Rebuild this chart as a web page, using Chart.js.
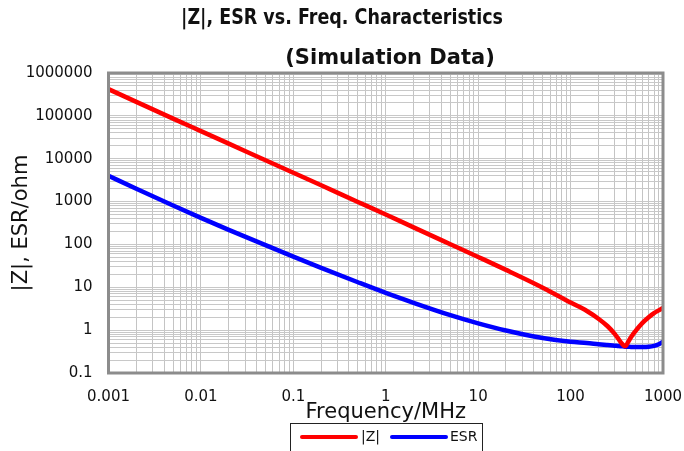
<!DOCTYPE html>
<html>
<head>
<meta charset="utf-8">
<script src="https://cdn.jsdelivr.net/npm/chart.js@4.4.0/dist/chart.umd.min.js"></script>
<style>
  html, body { margin: 0; padding: 0; background: #fff; }
  #wrap { width: 684px; height: 451px; }
</style>
</head>
<body>
<div id="wrap"><canvas id="chart" width="684" height="451"></canvas></div>
<script>
(() => {
  const titleLines = ["|Z|, ESR vs. Freq. Characteristics", "(Simulation Data)"];
  const xTitle = "Frequency/MHz";
  const yTitle = "|Z|, ESR/ohm";
  const seriesNames = ["|Z|", "ESR"];
  const seriesColors = ["#ff0000", "#0000ff"];

  const xTickLabels = ["0.001", "0.01", "0.1", "1", "10", "100", "1000"];
  const yTickLabels = ["0.1", "1", "10", "100", "1000", "10000", "100000", "1000000"];

  // frequency in MHz
  const freqMHz = [0.001, 0.002, 0.005, 0.01, 0.02, 0.05, 0.1, 0.2, 0.5, 1, 2, 5, 10, 20, 50,
    100, 150, 200, 250, 300, 330, 360, 380, 390, 400, 420, 450, 500, 550, 600, 700, 800, 900, 1000];
  const zOhm = [420000, 212000, 86000, 44000, 22500, 9200, 4700, 2400, 980, 500, 250, 101, 51, 25.5, 9.8,
    4.4, 2.8, 1.85, 1.25, 0.82, 0.62, 0.48, 0.43, 0.42, 0.44, 0.53, 0.68, 0.93, 1.2, 1.48, 2.0, 2.5, 2.9, 3.3];
  const esrOhm = [3990, 1990, 811, 417, 219, 96, 52, 28.5, 13.1, 7.4, 4.35, 2.24, 1.44, 0.98, 0.656,
    0.533, 0.5, 0.47, 0.45, 0.435, 0.425, 0.42, 0.415, 0.41, 0.41, 0.41, 0.405, 0.405, 0.405, 0.405, 0.41, 0.43, 0.47, 0.54];

  const font = "'DejaVu Sans', Verdana, sans-serif";
  const textColor = "#111";

  function logTicks(labels) {
    const ticks = [];
    const decades = labels.map(Number);
    decades.forEach((d, i) => {
      if (i === decades.length - 1) {
        ticks.push({ value: d });
        return;
      }
      for (let k = 1; k < 10; k++) ticks.push({ value: d * k });
    });
    return ticks;
  }

  function labelFor(labels) {
    return (value) => {
      const hit = labels.find((l) => Math.abs(Number(l) / value - 1) < 1e-6);
      return hit || "";
    };
  }

  const frame = {
    id: "frame",
    afterDatasetsDraw(chart) {
      const { ctx, chartArea: a } = chart;
      ctx.save();
      ctx.strokeStyle = "#8c8c8c";
      ctx.lineWidth = 3;
      ctx.strokeRect(a.left, a.top, a.right - a.left, a.bottom - a.top);
      ctx.restore();
    },
  };

  const headings = {
    id: "headings",
    afterDraw(chart) {
      const ctx = chart.ctx;
      ctx.save();
      ctx.fillStyle = textColor;
      ctx.font = "bold 21px " + font;
      ctx.textAlign = "center";
      ctx.textBaseline = "middle";
      ctx.fillText(titleLines[0], 342, 19, 322);
      ctx.fillText(titleLines[1], 390, 59);
      ctx.restore();
    },
  };

  const legendBox = {
    id: "legendBox",
    afterDraw(chart) {
      const ctx = chart.ctx;
      ctx.save();
      ctx.fillStyle = "#fff";
      ctx.fillRect(290.5, 423.5, 192, 40);
      ctx.strokeStyle = "#222";
      ctx.lineWidth = 1;
      ctx.strokeRect(290.5, 423.5, 192, 40);
      const items = [{ x0: 302, x1: 356, tx: 361 }, { x0: 392, x1: 446, tx: 450 }];
      chart.data.datasets.forEach((ds, i) => {
        const it = items[i];
        ctx.strokeStyle = ds.borderColor;
        ctx.lineWidth = 4;
        ctx.lineCap = "round";
        ctx.beginPath();
        ctx.moveTo(it.x0, 437);
        ctx.lineTo(it.x1, 437);
        ctx.stroke();
        ctx.fillStyle = textColor;
        ctx.font = "14px " + font;
        ctx.textAlign = "left";
        ctx.textBaseline = "middle";
        ctx.fillText(ds.label, it.tx, 437);
      });
      ctx.restore();
    },
  };

  const series = [zOhm, esrOhm].map((vals, i) => ({
    label: seriesNames[i],
    data: freqMHz.map((f, j) => ({ x: f, y: vals[j] })),
    borderColor: seriesColors[i],
    backgroundColor: seriesColors[i],
    borderWidth: 4.5,
    pointRadius: 0,
    cubicInterpolationMode: "monotone",
    fill: false,
  }));

  new Chart(document.getElementById("chart"), {
    type: "line",
    data: { datasets: series },
    plugins: [frame, headings, legendBox],
    options: {
      responsive: false,
      animation: false,
      devicePixelRatio: 1,
      layout: { padding: { top: 73, right: 21, bottom: 0, left: 0 } },
      plugins: { legend: { display: false }, title: { display: false }, tooltip: { enabled: false } },
      scales: {
        x: {
          type: "logarithmic",
          min: 0.001,
          max: 1000,
          afterBuildTicks: (s) => { s.ticks = logTicks(xTickLabels); },
          afterFit: (s) => { s.height = 78; s.paddingLeft = 0; s.paddingRight = 0; },
          grid: { color: "#c4c4c4", lineWidth: 1, drawTicks: false },
          border: { display: false },
          ticks: {
            autoSkip: false, maxRotation: 0, padding: 15, color: textColor,
            font: { family: font, size: 15 }, callback: labelFor(xTickLabels),
          },
          title: {
            display: true, text: xTitle, color: textColor,
            font: { family: font, size: 21 }, padding: { top: 0, bottom: 26 },
          },
        },
        y: {
          type: "logarithmic",
          min: 0.1,
          max: 1000000,
          afterBuildTicks: (s) => { s.ticks = logTicks(yTickLabels); },
          afterFit: (s) => { s.width = 108.5; },
          grid: { color: "#c8c8c8", lineWidth: 1, drawTicks: false },
          border: { display: false },
          ticks: {
            autoSkip: false, padding: 16, color: textColor,
            font: { family: font, size: 15 }, callback: labelFor(yTickLabels),
          },
          title: {
            display: true, text: yTitle, color: textColor,
            font: { family: font, size: 21 }, padding: { top: 9.4, bottom: 0 },
          },
        },
      },
    },
  });
})();
</script>
</body>
</html>
